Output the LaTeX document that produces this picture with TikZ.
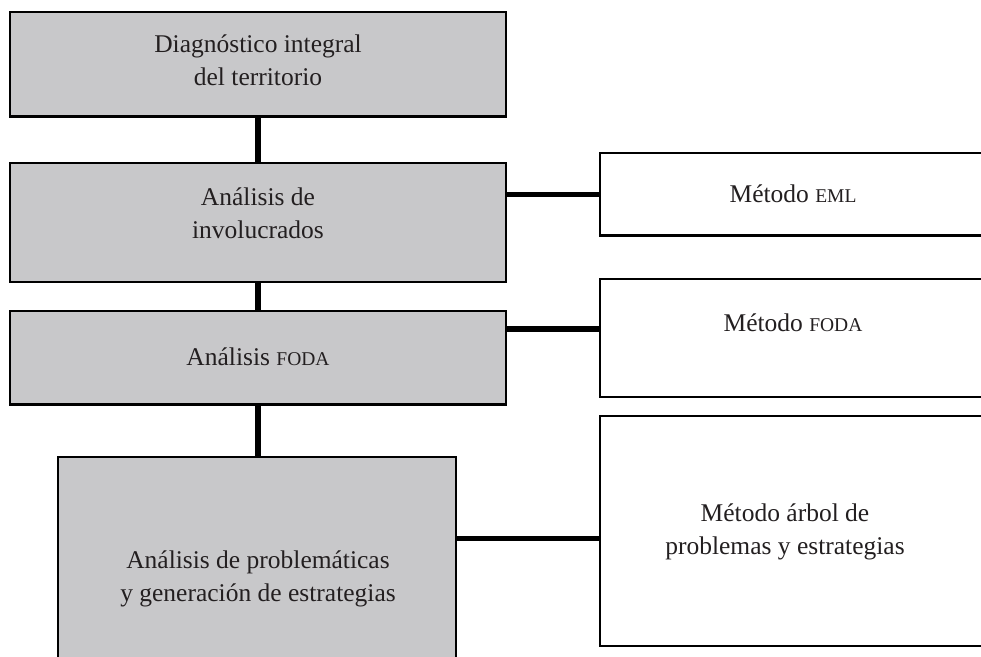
\documentclass[tikz,border=0pt]{standalone}
\usepackage{fontspec}
\setmainfont{Liberation Serif}
\definecolor{boxgray}{RGB}{200,200,202}
\definecolor{inkc}{RGB}{35,31,32}
\newcommand\smcap[1]{{\fontsize{19.5}{19.5}\selectfont #1}}
\begin{document}
\begin{tikzpicture}[x=1pt,y=-1pt,
  gbox/.style={draw=black,line width=2.2pt,fill=boxgray,inner sep=0pt},
  wbox/.style={draw=black,line width=2.2pt,fill=white,inner sep=0pt},
  lbl/.style={text=inkc,align=center,inner sep=0pt,font=\fontsize{25.5}{33}\selectfont},
  link/.style={draw=black,line width=5.5pt}]
\useasboundingbox (0,0) rectangle (981,656);
\clip (0,0) rectangle (981,656);
% boxes
\node[gbox,minimum width=496pt,minimum height=104.5pt] (b1) at (258,64.25) {};
\node[gbox,minimum width=496pt,minimum height=119pt] (b2) at (258,222.5) {};
\node[gbox,minimum width=496pt,minimum height=93.5pt] (b3) at (258,357.75) {};
\node[gbox,minimum width=398pt,minimum height=263pt] (b4) at (257,588.5) {};
\node[wbox,minimum width=400pt,minimum height=82.5pt] (r1) at (800,194.25) {};
\node[wbox,minimum width=400pt,minimum height=117.8pt] (r2) at (800,338.1) {};
\node[wbox,minimum width=400pt,minimum height=230pt] (r3) at (800,531) {};
% connectors
\draw[link] (b1.south) -- (b2.north);
\draw[link] (b2.south) -- (b3.north);
\draw[link] (b3.south) -- (b3.south |- b4.north);
\draw[link] (r1.west -| b2.east) -- (r1.west);
\draw[link] ([yshift=28.75pt]b3.east) -- ([yshift=28.75pt]b3.east -| r2.west);
\draw[link] ([yshift=-7.5pt]r3.west -| b4.east) -- ([yshift=-7.5pt]r3.west);
% labels
\node[lbl] (t1) at (258,60.7) {Diagnóstico integral\\del territorio};
\node[lbl] (t2) at (258,213.7) {Análisis de\\involucrados};
\node[lbl,anchor=base] (t3) at (258,365) {Análisis \smcap{FODA}};
\node[lbl] (t4) at (258,579) {Análisis de problemáticas\\y generación de estrategias};
\node[lbl,anchor=base] (s1) at (793,202.5) {Método \smcap{EML}};
\node[lbl,anchor=base] (s2) at (793,331.5) {Método \smcap{FODA}};
\node[lbl] (s3) at (785,532) {Método árbol de\\problemas y estrategias};
\end{tikzpicture}
\end{document}
